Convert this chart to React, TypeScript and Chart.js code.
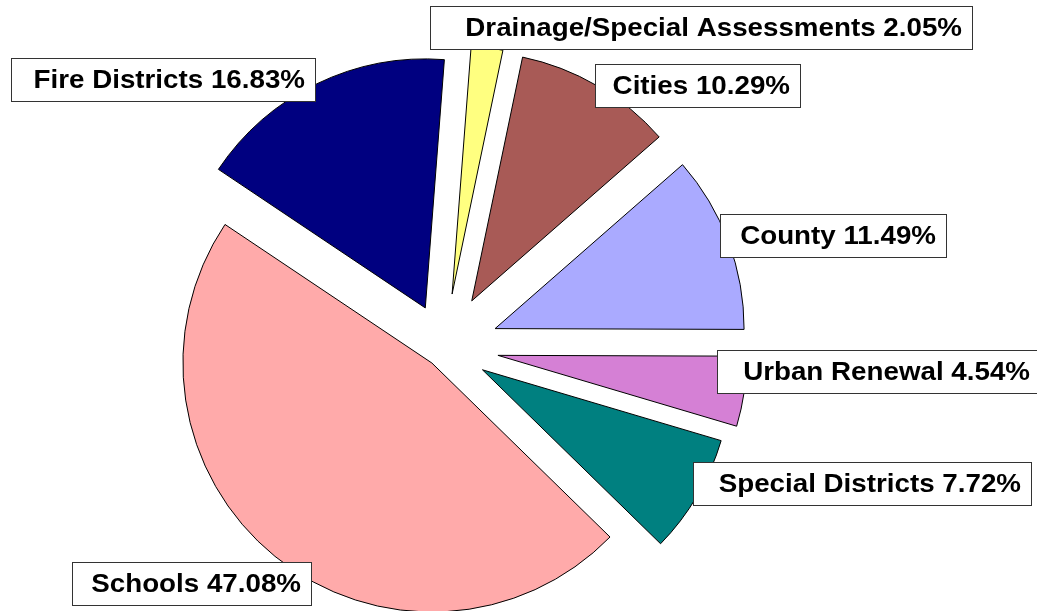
import React, { useEffect, useRef } from 'react';
import { Chart, registerables } from 'chart.js';

Chart.register(...registerables);

// ---- data ----
const categories = [
  'Drainage/Special Assessments',
  'Cities',
  'County',
  'Urban Renewal',
  'Special Districts',
  'Schools',
  'Fire Districts',
];
const shares = [2.05, 10.29, 11.49, 4.54, 7.72, 47.08, 16.83];

// ---- styles / layout ----
const sliceColors = ['#FFFF80', '#A85A56', '#AAAAFF', '#D580D5', '#008080', '#FFAAAA', '#000080'];
const explodeDist = [54, 54, 54, 54, 44, 20, 44];
// label boxes: left, top, right (height fixed)
const labelBoxes = [
  { left: 430, top: 6, right: 972 },
  { left: 595, top: 64, right: 800 },
  { left: 720, top: 214, right: 946 },
  { left: 717, top: 350, right: 1040 },
  { left: 693, top: 462, right: 1031 },
  { left: 72, top: 562, right: 311 },
  { left: 11, top: 58, right: 315 },
];
const BOX_H = 43;
const FONT_SIZE = 25;
const TEXT_SCALE_X = 1.11;

const explodePlugin = {
  id: 'explodeSlices',
  beforeDatasetDraw(chart: any, args: any) {
    const meta = chart.getDatasetMeta(args.index);
    meta.data.forEach((arc: any, i: number) => {
      const mid = (arc.startAngle + arc.endAngle) / 2;
      const d = explodeDist[i] || 0;
      arc._ox = arc.x;
      arc._oy = arc.y;
      arc.x = arc.x + Math.cos(mid) * d;
      arc.y = arc.y + Math.sin(mid) * d;
    });
  },
  afterDatasetDraw(chart: any, args: any) {
    const meta = chart.getDatasetMeta(args.index);
    meta.data.forEach((arc: any) => {
      arc.x = arc._ox;
      arc.y = arc._oy;
    });
  },
};

const labelPlugin = {
  id: 'boxLabels',
  afterDraw(chart: any) {
    const ctx = chart.ctx as CanvasRenderingContext2D;
    categories.forEach((cat, i) => {
      const b = labelBoxes[i];
      const text = `${cat} ${shares[i].toFixed(2)}%`;
      ctx.save();
      ctx.fillStyle = '#FFFFFF';
      ctx.fillRect(b.left, b.top, b.right - b.left, BOX_H);
      ctx.strokeStyle = '#333333';
      ctx.lineWidth = 1;
      ctx.strokeRect(b.left + 0.5, b.top + 0.5, b.right - b.left, BOX_H);
      ctx.font = `bold ${FONT_SIZE}px "Liberation Sans", Arial, sans-serif`;
      ctx.fillStyle = '#000000';
      ctx.textAlign = 'right';
      ctx.textBaseline = 'alphabetic';
      const baseline = b.top + BOX_H / 2 + FONT_SIZE * 0.716 / 2;
      ctx.translate(b.right - 10, baseline);
      ctx.scale(TEXT_SCALE_X, 1);
      ctx.fillText(text, 0, 0);
      ctx.restore();
    });
  },
};

export default function App() {
  const ref = useRef<HTMLCanvasElement | null>(null);
  useEffect(() => {
    if (!ref.current) return;
    const chart = new Chart(ref.current, {
      type: 'pie',
      data: {
        labels: categories,
        datasets: [
          {
            data: shares,
            backgroundColor: sliceColors,
            borderColor: '#000000',
            borderWidth: 1,
            borderJoinStyle: 'miter',
          } as any,
        ],
      },
      options: {
        responsive: false,
        animation: false,
        rotation: 4.4,
        radius: 249,
        layout: { padding: { left: 0, right: 148, top: 84, bottom: 0 } },
        events: [],
        plugins: {
          legend: { display: false },
          tooltip: { enabled: false },
        },
      } as any,
      plugins: [explodePlugin, labelPlugin],
    });
    return () => chart.destroy();
  }, []);
  return (
    <div style={{ position: 'fixed', left: 0, top: 0, width: 1037, height: 611, background: '#fff' }}>
      <canvas ref={ref} width={1037} height={611} style={{ display: 'block' }} />
    </div>
  );
}
